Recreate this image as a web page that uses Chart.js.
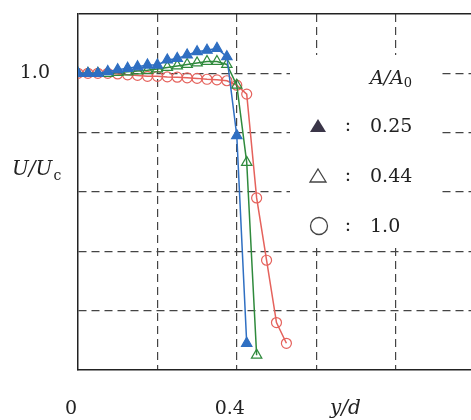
<!DOCTYPE html>
<html>
<head>
<meta charset="utf-8">
<script src="https://cdn.jsdelivr.net/npm/chart.js@4/dist/chart.umd.min.js"></script>
<style>
  body { margin: 0; background: #fff; }
  #wrap { width: 471px; height: 420px; }
</style>
</head>
<body>
<div id="wrap"><canvas id="velChart" width="471" height="420"></canvas></div>
<script>
// y/d positions of the measuring points
const yd = [0, 0.025, 0.05, 0.075, 0.1, 0.125, 0.15, 0.175, 0.2, 0.225, 0.25,
            0.275, 0.3, 0.325, 0.35, 0.375, 0.4, 0.425, 0.45, 0.475, 0.5, 0.525];

// U/Uc for each area ratio A/A0
const ratioLabels = ['0.25', '0.44', '1.0'];
const u025 = [1.0, 1.0, 1.0, 1.006, 1.012, 1.017, 1.022, 1.028, 1.028, 1.045, 1.05,
              1.062, 1.073, 1.078, 1.084, 1.056, 0.79, 0.09];
const u044 = [1.0, 1.0, 1.0, 1.0, 1.003, 1.005, 1.008, 1.01, 1.015, 1.02, 1.025,
              1.03, 1.035, 1.04, 1.04, 1.03, 0.96, 0.70, 0.05];
const u100 = [1.0, 1.0, 1.0, 1.0, 0.998, 0.995, 0.993, 0.99, 0.99, 0.988, 0.987,
              0.985, 0.983, 0.98, 0.978, 0.975, 0.96, 0.93, 0.58, 0.37, 0.16, 0.09];

// axis ticks and the labels actually printed
const xTicks = [0, 0.2, 0.4, 0.6, 0.8];
const xTickLabels = ['0', '', '0.4', '', ''];
const yTicks = [0, 0.2, 0.4, 0.6, 0.8, 1.0, 1.2];
const yTickLabels = ['', '', '', '', '', '1.0', ''];

const toPoints = (vals) => vals.map((v, i) => ({ x: yd[i], y: v }));

const serif = '"DejaVu Serif", "Liberation Serif", serif';
const ink = '#222';
const gridDash = [8, 5];
const clear = 'rgba(0,0,0,0)';

// white box with the A/A0 key, drawn over the grid
const keyPlugin = {
    id: 'keyBox',
    beforeDatasetsDraw(chart) {
        const c = chart.ctx;
        c.save();
        c.fillStyle = '#fff';
        c.fillRect(290, 55, 152, 190);
        c.restore();
    },
    afterDraw(chart) {
        const c = chart.ctx;
        c.save();
        c.fillStyle = ink;
        c.textBaseline = 'middle';

        // header A/A0
        c.font = 'italic 19px ' + serif;
        c.textAlign = 'left';
        c.fillText('A/A', 370, 79);
        let w = c.measureText('A/A').width;
        c.font = '13px ' + serif;
        c.fillText('0', 370 + w, 84);

        const rows = [126, 176, 226];
        // filled triangle
        c.fillStyle = '#3a3548';
        c.beginPath();
        c.moveTo(318, rows[0] - 7); c.lineTo(326, rows[0] + 6); c.lineTo(310, rows[0] + 6);
        c.closePath(); c.fill();
        // open triangle
        c.strokeStyle = '#444';
        c.lineWidth = 1.3;
        c.beginPath();
        c.moveTo(318, rows[1] - 7); c.lineTo(326, rows[1] + 6); c.lineTo(310, rows[1] + 6);
        c.closePath(); c.stroke();
        // open circle
        c.beginPath();
        c.arc(319, rows[2], 8.5, 0, Math.PI * 2);
        c.stroke();

        c.fillStyle = ink;
        c.font = '19px ' + serif;
        rows.forEach((y, i) => {
            c.textAlign = 'center';
            c.fillText(':', 348, y);
            c.textAlign = 'left';
            c.fillText(ratioLabels[i], 370, y + 1);
        });

        // axis titles
        c.font = 'italic 20px ' + serif;
        c.fillText('U/U', 12, 170);
        w = c.measureText('U/U').width;
        c.font = '14px ' + serif;
        c.fillText('c', 12 + w + 1, 176);
        c.font = 'italic 20px ' + serif;
        c.fillText('y/d', 330, 409);
        c.restore();
    }
};

const mkSet = (label, vals, color, style, filled) => ({
    label: label,
    data: toPoints(vals),
    showLine: true,
    borderColor: color,
    borderWidth: 1.5,
    backgroundColor: filled ? color : clear,
    pointStyle: style,
    pointRadius: style === 'circle' ? 5 : 6,
    pointBorderWidth: 1.2,
    pointBorderColor: color,
    pointBackgroundColor: filled ? color : clear,
    tension: 0
});

new Chart(document.getElementById('velChart'), {
    type: 'scatter',
    data: {
        datasets: [
            mkSet(ratioLabels[0], u025, '#2f6fc2', 'triangle', true),
            mkSet(ratioLabels[1], u044, '#2f8a3c', 'triangle', false),
            mkSet(ratioLabels[2], u100, '#e5625c', 'circle', false)
        ]
    },
    options: {
        responsive: false,
        devicePixelRatio: 1,
        animation: false,
        layout: { autoPadding: false, padding: { top: 14, right: 0, left: 0, bottom: 0 } },
        plugins: { legend: { display: false }, tooltip: { enabled: false } },
        scales: {
            x: {
                type: 'linear',
                min: 0,
                max: 0.99,
                afterBuildTicks: (scale) => { scale.ticks = xTicks.map(v => ({ value: v })); },
                afterFit: (scale) => { scale.height = 50; },
                ticks: {
                    callback: (v) => xTickLabels[xTicks.indexOf(v)] || '',
                    font: { family: serif, size: 19 },
                    color: ink,
                    padding: 28,
                    labelOffset: -7,
                    maxRotation: 0,
                    autoSkip: false
                },
                grid: {
                    drawTicks: false,
                    color: (ctx) => (ctx.tick && ctx.tick.value === 0) ? clear : '#444',
                    lineWidth: 1.2
                },
                border: { display: true, color: ink, width: 1.5, dash: gridDash }
            },
            y: {
                type: 'linear',
                min: 0,
                max: 1.2,
                afterBuildTicks: (scale) => { scale.ticks = yTicks.map(v => ({ value: v })); },
                afterFit: (scale) => { scale.width = 78; },
                ticks: {
                    callback: (v) => yTickLabels[yTicks.indexOf(v)] || '',
                    font: { family: serif, size: 19 },
                    color: ink,
                    padding: 0,
                    autoSkip: false
                },
                grid: {
                    drawTicks: true,
                    tickLength: 28,
                    tickColor: clear,
                    color: (ctx) => {
                        if (!ctx.tick) return '#444';
                        if (ctx.tick.value === 0) return clear;
                        return ctx.tick.value >= 1.2 ? ink : '#444';
                    },
                    lineWidth: (ctx) => (ctx.tick && ctx.tick.value >= 1.2) ? 1.5 : 1.2
                },
                border: {
                    display: true, color: ink, width: 1.5,
                    dash: (ctx) => (ctx.tick && ctx.tick.value >= 1.2) ? [] : gridDash
                }
            }
        }
    },
    plugins: [keyPlugin]
});
</script>
</body>
</html>
